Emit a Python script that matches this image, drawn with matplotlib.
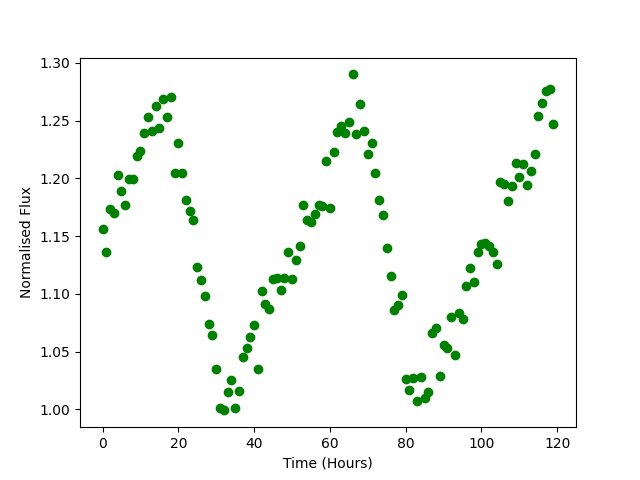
import numpy as np
import matplotlib
matplotlib.use("Agg")
import matplotlib.pyplot as plt

time_hours = list(range(120))
flux = [
    1.156, 1.136, 1.173, 1.170, 1.203, 1.189, 1.177, 1.199, 1.199, 1.219,
    1.224, 1.239, 1.253, 1.241, 1.263, 1.244, 1.269, 1.253, 1.270, 1.205,
    1.231, 1.205, 1.181, 1.172, 1.164, 1.123, 1.112, 1.098, 1.074, 1.064,
    1.035, 1.001, 0.999, 1.015, 1.025, 1.001, 1.016, 1.045, 1.053, 1.063,
    1.073, 1.035, 1.102, 1.091, 1.087, 1.113, 1.114, 1.103, 1.114, 1.136,
    1.113, 1.129, 1.141, 1.177, 1.164, 1.162, 1.169, 1.177, 1.176, 1.215,
    1.174, 1.223, 1.240, 1.245, 1.239, 1.249, 1.290, 1.238, 1.264, 1.241,
    1.221, 1.231, 1.205, 1.181, 1.168, 1.140, 1.115, 1.086, 1.090, 1.099,
    1.026, 1.017, 1.027, 1.007, 1.028, 1.010, 1.015, 1.066, 1.070, 1.029,
    1.056, 1.053, 1.080, 1.047, 1.083, 1.078, 1.107, 1.122, 1.110, 1.136,
    1.143, 1.144, 1.141, 1.136, 1.126, 1.197, 1.195, 1.180, 1.193, 1.213,
    1.201, 1.212, 1.194, 1.206, 1.221, 1.254, 1.265, 1.276, 1.277, 1.247,
]

fig, ax = plt.subplots(figsize=(6.4, 4.8), dpi=100)
ax.plot(time_hours, flux, 'o', color='green')
ax.set_xlabel("Time (Hours)")
ax.set_ylabel("Normalised Flux")
fig.savefig("out.png", dpi=100)
